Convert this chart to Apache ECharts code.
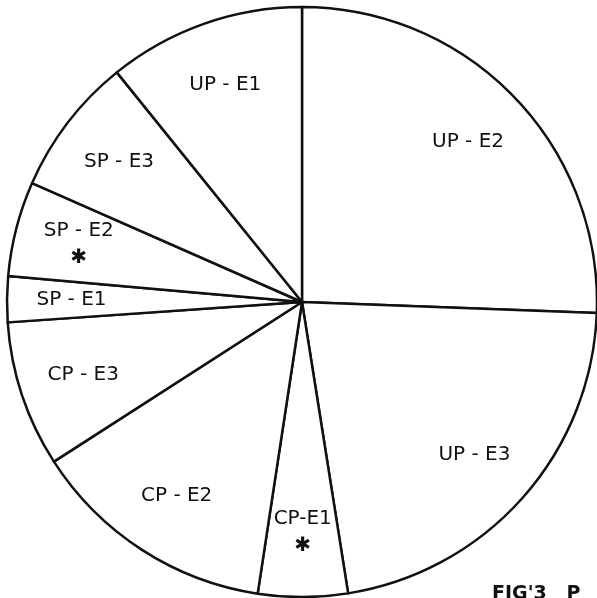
<!DOCTYPE html>
<html>
<head>
<meta charset="utf-8">
<script src="https://cdn.jsdelivr.net/npm/echarts@6/dist/echarts.min.js"></script>
<style>
  html, body { margin: 0; padding: 0; background: #fff; }
  #chart { width: 597px; height: 598px; }
</style>
</head>
<body>
<div id="chart"></div>
<script>
  // slices, clockwise from 12 o'clock (percent of circle)
  var categories = ['UP - E2', 'UP - E3', 'CP-E1', 'CP - E2', 'CP - E3', 'SP - E1', 'SP - E2', 'SP - E3', 'UP - E1'];
  var shares = [25.6, 21.9, 4.9, 13.5, 8.0, 2.5, 5.2, 7.6, 10.8];
  var starred = ['CP-E1', 'SP - E2'];

  var pieData = categories.map(function (name, i) {
    return { name: name, value: shares[i] };
  });

  var chart = echarts.init(document.getElementById('chart'));
  var option = {
    backgroundColor: '#fff',
    animation: false,
    title: {
      text: "FIG'3   P",
      left: 487,
      top: 580,
      textStyle: { fontFamily: 'DejaVu Sans', fontSize: 19, fontWeight: 'bold', color: '#111' }
    },
    series: [
      {
        // the sectors
        type: 'pie',
        center: [302, 302],
        radius: [0, 295],
        startAngle: 90,
        clockwise: true,
        silent: true,
        label: { show: false },
        labelLine: { show: false },
        itemStyle: { color: '#fff', borderColor: '#111', borderWidth: 2.5 },
        data: pieData
      },
      {
        // transparent ring, only used to place the labels
        type: 'pie',
        center: [302, 302],
        radius: [160, 295],
        startAngle: 90,
        clockwise: true,
        silent: true,
        itemStyle: { color: 'rgba(0,0,0,0)', borderWidth: 0 },
        labelLine: { show: false },
        label: {
          show: true,
          position: 'inner',
          fontFamily: 'DejaVu Sans',
          fontSize: 20,
          color: '#111',
          lineHeight: 27,
          formatter: function (p) {
            return starred.indexOf(p.name) >= 0 ? p.name + '\n\u2731' : p.name;
          }
        },
        data: pieData
      }
    ]
  };
  chart.setOption(option);
</script>
</body>
</html>
